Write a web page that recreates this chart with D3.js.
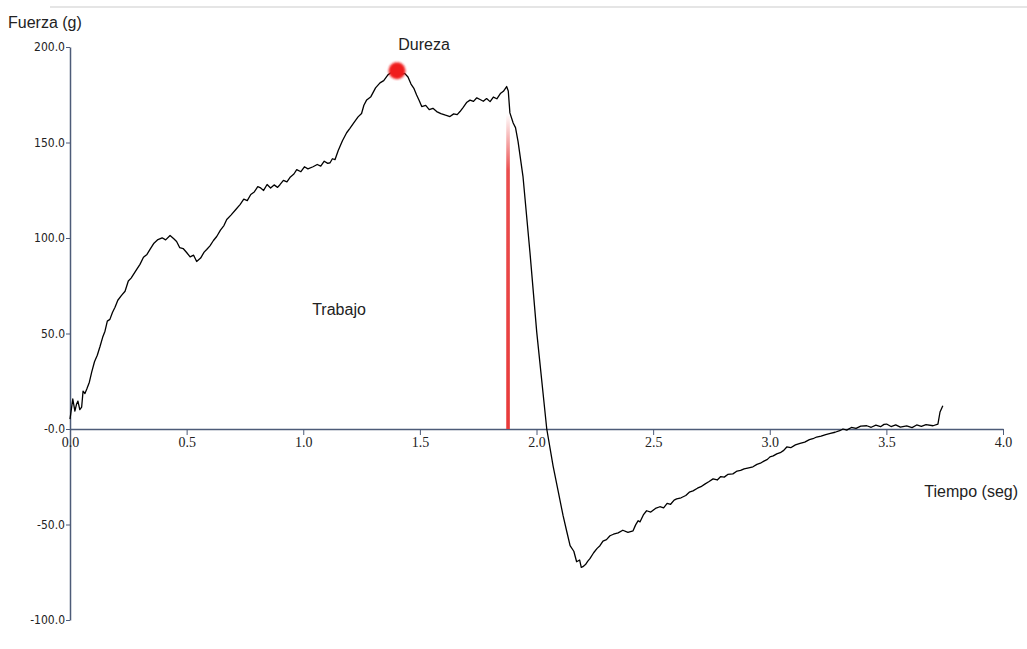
<!DOCTYPE html>
<html>
<head>
<meta charset="utf-8">
<script src="https://cdn.jsdelivr.net/npm/d3@7"></script>
<style>
  body { margin: 0; background: #fff; }
  svg { display: block; }
</style>
</head>
<body>
<svg id="chart"></svg>
<script>
// tiempo (seg) y fuerza (g)
const tiempo = [0, 0.006, 0.012, 0.021, 0.028, 0.034, 0.042, 0.050, 0.056, 0.064, 0.072, 0.083, 0.093, 0.105, 0.117, 0.129,
  0.140, 0.150, 0.160, 0.171, 0.182, 0.193, 0.205, 0.220, 0.236, 0.250, 0.262, 0.286, 0.300, 0.315, 0.330, 0.343, 0.360, 0.377,
  0.395, 0.410, 0.429, 0.445, 0.457, 0.470, 0.485, 0.500, 0.515, 0.530, 0.543, 0.560, 0.575, 0.586, 0.600, 0.615, 0.629,
  0.645, 0.660, 0.672, 0.690, 0.710, 0.729, 0.745, 0.760, 0.775, 0.790, 0.805, 0.815, 0.830, 0.845, 0.860, 0.875, 0.890, 0.900,
  0.915, 0.930, 0.945, 0.960, 0.972, 0.990, 1.005, 1.020, 1.042, 1.060, 1.075, 1.090, 1.105, 1.115, 1.125, 1.136, 1.150, 1.168,
  1.186, 1.200, 1.215, 1.235, 1.250, 1.260, 1.272, 1.290, 1.310, 1.329, 1.345, 1.363, 1.380, 1.402, 1.420, 1.435, 1.449,
  1.462, 1.475, 1.486, 1.497, 1.508, 1.525, 1.540, 1.556, 1.572, 1.590, 1.610, 1.629, 1.645, 1.660, 1.672, 1.685, 1.700,
  1.715, 1.730, 1.744, 1.758, 1.772, 1.786, 1.801, 1.815, 1.830, 1.845, 1.858, 1.872, 1.879, 1.886, 1.900, 1.910, 1.921,
  1.942, 1.972, 2.001, 2.044, 2.071, 2.092, 2.114, 2.130, 2.144, 2.160, 2.172, 2.185, 2.192, 2.199, 2.210, 2.220, 2.229,
  2.245, 2.260, 2.272, 2.285, 2.300, 2.315, 2.330, 2.350, 2.370, 2.392, 2.414, 2.425, 2.436, 2.444, 2.458, 2.472, 2.490,
  2.510, 2.529, 2.545, 2.560, 2.575, 2.590, 2.601, 2.620, 2.640, 2.655, 2.671, 2.690, 2.705, 2.720, 2.740, 2.757, 2.775,
  2.790, 2.805, 2.820, 2.842, 2.860, 2.875, 2.890, 2.910, 2.928, 2.945, 2.960, 2.975, 2.990, 3.001, 3.015, 3.030, 3.045,
  3.060, 3.073, 3.090, 3.110, 3.130, 3.150, 3.170, 3.185, 3.201, 3.220, 3.240, 3.260, 3.280, 3.300, 3.314, 3.330, 3.350,
  3.370, 3.390, 3.416, 3.435, 3.455, 3.475, 3.490, 3.501, 3.520, 3.540, 3.560, 3.587, 3.610, 3.630, 3.650, 3.670, 3.700,
  3.721, 3.730, 3.742];
const fuerza = [5.2, 10.5, 15.7, 9.4, 13.0, 14.6, 10.2, 11.5, 19.8, 18.6, 20.9, 24.5, 29.8, 35.2, 38.6, 43.3,
  48.0, 51.2, 56.5, 57.4, 61.0, 63.7, 67.4, 69.8, 72.1, 77.5, 79.0, 83.6, 86.2, 89.9, 91.4, 94.0, 97.3, 99.2,
  100.1, 99.0, 101.3, 99.6, 98.2, 95.0, 94.5, 92.4, 90.1, 91.0, 87.7, 89.5, 92.6, 94.0, 95.9, 98.7, 100.8,
  104.1, 106.5, 109.7, 112.0, 114.8, 117.5, 120.3, 119.6, 122.8, 124.1, 126.9, 126.4, 124.9, 128.0, 126.2, 127.8, 126.5, 127.9,
  130.2, 129.4, 132.0, 133.5, 135.8, 134.7, 137.3, 136.2, 137.3, 138.5, 137.6, 140.2, 139.1, 139.4, 141.5, 141.0, 145.8, 150.9,
  155.1, 157.4, 160.0, 163.4, 165.2, 169.5, 172.3, 174.0, 178.6, 181.2, 182.4, 185.4, 186.9, 187.6, 185.7, 186.2, 184.3,
  180.6, 178.2, 174.9, 172.0, 168.8, 169.4, 167.2, 167.9, 166.2, 165.1, 164.3, 163.6, 165.0, 164.6, 166.2, 168.3, 170.9,
  172.2, 171.5, 173.4, 172.5, 171.6, 173.0, 171.4, 173.8, 172.9, 175.6, 176.8, 179.3, 177.0, 165.5, 160.2, 157.8, 150.5,
  132.3, 92.4, 50.7, 0, -19.3, -32.0, -45.4, -53.8, -61.1, -64.0, -69.5, -68.6, -72.4, -72.1, -71.0, -69.2, -67.9,
  -64.8, -62.5, -61.1, -58.7, -57.9, -55.9, -55.1, -54.4, -53.0, -54.1, -53.3, -50.2, -48.0, -48.6, -45.0, -42.8, -43.5,
  -41.6, -40.7, -41.3, -38.9, -39.4, -37.2, -36.6, -36.0, -34.8, -33.1, -32.4, -31.0, -30.2, -29.0, -27.5, -26.1, -26.7,
  -24.9, -25.2, -23.8, -23.5, -22.0, -21.7, -20.9, -20.3, -19.8, -18.5, -17.9, -16.8, -15.9, -14.6, -14.1, -13.0, -12.4,
  -11.2, -9.4, -9.8, -8.3, -7.5, -6.9, -5.6, -5.1, -4.2, -3.7, -2.9, -2.3, -1.7, -0.9, 0, -0.6, 0.8,
  0.3, 1.5, 1.7, 0.9, 2.0, 1.2, 2.4, 2.6, 1.3, 2.2, 1.0, 1.6, 0.7, 2.1, 1.4, 2.3, 1.7,
  2.6, 8.9, 12.2];

const xTicks = [0, 0.5, 1.0, 1.5, 2.0, 2.5, 3.0, 3.5, 4.0];
const xTickLabels = ["0.0", "0.5", "1.0", "1.5", "2.0", "2.5", "3.0", "3.5", "4.0"];
const yTicks = [200, 150, 100, 50, 0, -50, -100];
const yTickLabels = ["200.0", "150.0", "100.0", "50.0", "-0.0", "-50.0", "-100.0"];

const dureza = { t: 1.402, f: 187.6 };   // punto rojo
const corte = { t: 1.878, f0: 0, f1: 165 }; // linea roja vertical

const width = 1027, height = 649;
const svg = d3.select("#chart").attr("width", width).attr("height", height);

const x = d3.scaleLinear().domain([0, 4]).range([70, 1003]);
const y = d3.scaleLinear().domain([-100, 200]).range([620, 47]);

const axisColor = "#4d5b78";

// linea gris superior
svg.append("line")
  .attr("x1", 50).attr("x2", width).attr("y1", 7).attr("y2", 7)
  .attr("stroke", "#dcdcdc").attr("stroke-width", 1.5);

const defs = svg.append("defs");
const grad = defs.append("linearGradient")
  .attr("id", "redfade").attr("x1", 0).attr("x2", 0).attr("y1", 0).attr("y2", 1);
grad.append("stop").attr("offset", "0%").attr("stop-color", "#e83a3a").attr("stop-opacity", 0);
grad.append("stop").attr("offset", "18%").attr("stop-color", "#e83a3a").attr("stop-opacity", 0.9);
grad.append("stop").attr("offset", "100%").attr("stop-color", "#e83a3a").attr("stop-opacity", 1);

defs.append("filter").attr("id", "blur")
  .append("feGaussianBlur").attr("stdDeviation", 1.2);

// eje Y
const yAxis = svg.append("g")
  .attr("transform", `translate(${x(0)},0)`)
  .call(d3.axisLeft(y).tickValues(yTicks).tickSize(4).tickSizeOuter(0)
    .tickFormat((d, i) => yTickLabels[i]));
yAxis.select(".domain").attr("stroke", axisColor).attr("stroke-width", 1.5);
yAxis.selectAll(".tick line").attr("stroke", axisColor);
yAxis.selectAll(".tick text")
  .attr("font-family", "DejaVu Sans Condensed, DejaVu Sans, sans-serif")
  .attr("font-size", "12px").attr("fill", "#222").attr("x", -5);

// eje X
const xAxis = svg.append("g")
  .attr("transform", `translate(0,${y(0)})`)
  .call(d3.axisBottom(x).tickValues(xTicks).tickSize(6).tickSizeOuter(0)
    .tickFormat((d, i) => xTickLabels[i]));
xAxis.select(".domain").attr("stroke", axisColor).attr("stroke-width", 1.5);
xAxis.selectAll(".tick line").attr("stroke", axisColor);
xAxis.selectAll(".tick text")
  .attr("font-family", "Liberation Serif, Times New Roman, serif")
  .attr("font-size", "14px").attr("fill", "#222").attr("dy", "0.9em").attr("y", 5);

// linea roja
svg.append("rect")
  .attr("x", x(corte.t) - 1.8).attr("width", 3.6)
  .attr("y", y(corte.f1)).attr("height", y(corte.f0) - y(corte.f1))
  .attr("fill", "url(#redfade)");

// curva
const line = d3.line().x(d => x(d[0])).y(d => y(d[1]));
svg.append("path")
  .datum(d3.zip(tiempo, fuerza))
  .attr("d", line)
  .attr("fill", "none").attr("stroke", "#000").attr("stroke-width", 1.3)
  .attr("stroke-linejoin", "round");

// punto de dureza
svg.append("circle")
  .attr("cx", x(dureza.t)).attr("cy", y(dureza.f)).attr("r", 8.5)
  .attr("fill", "#f01c1c").attr("filter", "url(#blur)");

const labelFont = "Liberation Sans, Arial, sans-serif";
svg.append("text").attr("x", 8).attr("y", 28).text("Fuerza (g)")
  .attr("font-family", labelFont).attr("font-size", "16px").attr("fill", "#222");
svg.append("text").attr("x", 1018).attr("y", 497).attr("text-anchor", "end").text("Tiempo (seg)")
  .attr("font-family", labelFont).attr("font-size", "16px").attr("fill", "#222");
svg.append("text").attr("x", x(dureza.t) + 27).attr("y", 50).attr("text-anchor", "middle").text("Dureza")
  .attr("font-family", labelFont).attr("font-size", "16px").attr("fill", "#222");
svg.append("text").attr("x", 339).attr("y", 315).attr("text-anchor", "middle").text("Trabajo")
  .attr("font-family", labelFont).attr("font-size", "16px").attr("fill", "#222");
</script>
</body>
</html>
